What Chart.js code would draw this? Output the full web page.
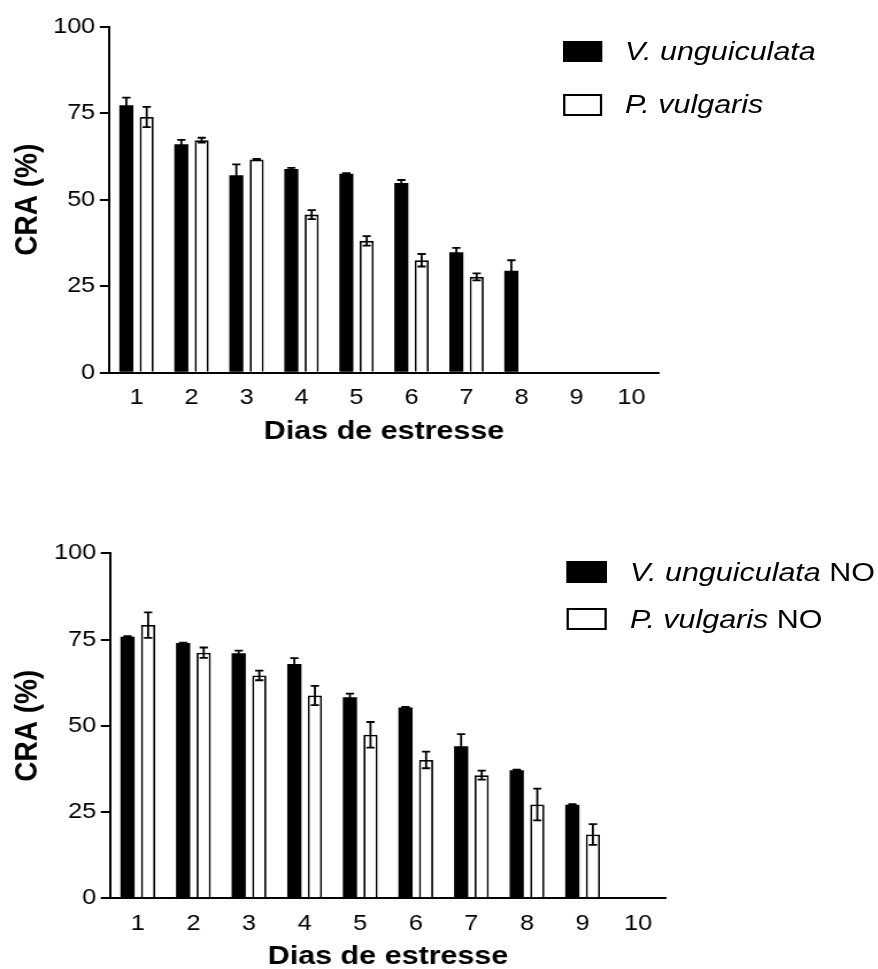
<!DOCTYPE html>
<html>
<head>
<meta charset="utf-8">
<script src="https://cdn.jsdelivr.net/npm/chart.js@4.4.0/dist/chart.umd.min.js"></script>
<style>
    html, body { margin: 0; padding: 0; background: #fff; overflow: hidden; }
    #wrap { position: absolute; left: 0; top: 0; width: 764px; height: 969px; transform: scaleX(1.1492); transform-origin: 0 0; }
    canvas { position: absolute; left: 0; }
    .legend { position: absolute; left: 0; top: 0; font-family: "Liberation Sans", Arial, sans-serif; font-size: 26.5px; color: #000; }
    .row { position: absolute; display: flex; align-items: center; white-space: nowrap; }
    .box { box-sizing: border-box; border: 2px solid #000; }
</style>
</head>
<body>
<div id="wrap">
    <canvas id="chartTop" width="764" height="526" style="top:0px"></canvas>
    <canvas id="chartBottom" width="764" height="526" style="top:526px"></canvas>
    <div id="legendTop" class="legend"></div>
    <div id="legendBottom" class="legend"></div>
</div>
<script>
// Data (CRA %, mean and error)
const days = ['1', '2', '3', '4', '5', '6', '7', '8', '9', '10'];
const yTicks = [0, 25, 50, 75, 100];
const species = ['V. unguiculata', 'P. vulgaris'];

// Top panel
const vungMean = [77.3, 66.0, 57.1, 58.9, 57.5, 54.8, 34.8, 29.5, null, null];
const vungErr  = [2.2, 1.3, 3.1, 0.3, 0.2, 0.9, 1.3, 3.0, null, null];
const pvulMean = [73.9, 67.2, 61.6, 45.7, 38.1, 32.5, 27.7, null, null, null];
const pvulErr  = [2.9, 0.7, 0.2, 1.3, 1.4, 1.8, 1.0, null, null, null];

// Bottom panel (NO)
const vungNoMean = [75.8, 74.0, 71.0, 67.9, 58.3, 55.3, 44.1, 37.1, 27.1, null];
const vungNoErr  = [0.2, 0.1, 0.8, 1.7, 1.0, 0.2, 3.5, 0.2, 0.2, null];
const pvulNoMean = [79.2, 71.2, 64.6, 58.8, 47.4, 40.1, 35.7, 27.2, 18.5, null];
const pvulNoErr  = [3.7, 1.5, 1.4, 2.8, 3.7, 2.4, 1.3, 4.6, 3.0, null];

// Page is drawn narrow and stretched horizontally (the figure's text is wide)
const SX = 1.1492;
const W = 764, H = 526;
const px = x => x / SX;
const FONT = '"Liberation Sans", Arial, sans-serif';

// Draw mean +/- error whiskers on each bar
const errorBars = {
    id: 'errorBars',
    afterDatasetsDraw(chart) {
        const ctx = chart.ctx;
        const yScale = chart.scales.y;
        ctx.save();
        ctx.strokeStyle = '#000';
        ctx.lineWidth = 1.8;
        chart.data.datasets.forEach((ds, i) => {
            chart.getDatasetMeta(i).data.forEach((bar, j) => {
                const v = ds.data[j];
                const e = ds.errors[j];
                if (v == null || !e) return;
                const x = bar.x;
                const yTop = yScale.getPixelForValue(v + e);
                const yBot = yScale.getPixelForValue(v - e);
                const cap = 3.6;
                ctx.beginPath();
                ctx.moveTo(x, yTop); ctx.lineTo(x, yBot);
                ctx.moveTo(x - cap, yTop); ctx.lineTo(x + cap, yTop);
                ctx.moveTo(x - cap, yBot); ctx.lineTo(x + cap, yBot);
                ctx.stroke();
            });
        });
        ctx.restore();
    }
};

function makeDatasets(blackMean, blackErr, whiteMean, whiteErr, labels) {
    return [
        { label: labels[0], data: blackMean, errors: blackErr, backgroundColor: '#000', borderWidth: 0 },
        { label: labels[1], data: whiteMean, errors: whiteErr, backgroundColor: '#fff', borderColor: '#000', borderWidth: 1.8 }
    ].map(ds => Object.assign(ds, { categoryPercentage: 0.74, barPercentage: 0.69 }));
}

// lay: chart area and title positions in figure pixels, relative to the canvas
function makeChart(id, lay, datasets) {
    return new Chart(document.getElementById(id), {
        type: 'bar',
        data: { labels: days, datasets: datasets },
        options: {
            responsive: false,
            animation: false,
            layout: { padding: { top: lay.top, right: W - px(lay.right), left: 0, bottom: 0 } },
            plugins: { legend: { display: false }, tooltip: { enabled: false } },
            scales: {
                x: {
                    grid: { display: false },
                    border: { display: true, color: '#000', width: 2 },
                    ticks: { color: '#000', font: { family: FONT, size: 22 }, padding: 4, maxRotation: 0 },
                    title: {
                        display: true, text: 'Dias de estresse', color: '#000',
                        font: { family: FONT, size: 26.5, weight: 'bold' },
                        padding: { top: 0, bottom: H - lay.xTitleY - 15.9 }
                    },
                    afterFit: s => { s.height = H - lay.bottom; }
                },
                y: {
                    min: 0,
                    max: 100,
                    afterBuildTicks: s => { s.ticks = yTicks.map(v => ({ value: v })); },
                    grid: { drawOnChartArea: false, drawTicks: true, tickLength: 8, color: '#000', lineWidth: 2 },
                    border: { display: true, color: '#000', width: 2 },
                    ticks: { color: '#000', font: { family: FONT, size: 22 }, padding: 4 },
                    title: {
                        display: true, text: 'CRA (%)', color: '#000',
                        font: { family: FONT, size: 28, weight: 'bold' },
                        padding: { top: px(lay.yTitleX) - 16.8, bottom: 0 }
                    },
                    afterFit: s => { s.width = px(lay.left); }
                }
            }
        },
        plugins: [errorBars]
    });
}

// HTML legend built from the chart's datasets
function buildLegend(id, chart, lay, suffix) {
    const el = document.getElementById(id);
    chart.data.datasets.forEach((ds, i) => {
        const row = document.createElement('div');
        row.className = 'row';
        row.style.left = px(lay.x) + 'px';
        row.style.top = lay.rows[i] + 'px';
        row.style.height = lay.h + 'px';
        row.style.lineHeight = lay.h + 'px';
        const box = document.createElement('div');
        box.className = 'box';
        box.style.width = px(lay.w) + 'px';
        box.style.height = lay.h + 'px';
        box.style.background = ds.backgroundColor;
        box.style.marginRight = px(lay.gap) + 'px';
        const txt = document.createElement('span');
        const it = document.createElement('i');
        it.textContent = ds.label;
        txt.appendChild(it);
        if (suffix) txt.appendChild(document.createTextNode(suffix));
        row.appendChild(box);
        row.appendChild(txt);
        el.appendChild(row);
    });
}

const topChart = makeChart('chartTop',
    { left: 109, right: 659, top: 26.7, bottom: 372.7, xTitleY: 431.2, yTitleX: 27.5 },
    makeDatasets(vungMean, vungErr, pvulMean, pvulErr, species));

const bottomChart = makeChart('chartBottom',
    { left: 110, right: 666, top: 27.3, bottom: 372.3, xTitleY: 431, yTitleX: 28.3 },
    makeDatasets(vungNoMean, vungNoErr, pvulNoMean, pvulNoErr, species));

buildLegend('legendTop', topChart, { x: 562.7, w: 40, h: 21.6, gap: 22.3, rows: [40.7, 94.3] }, '');
buildLegend('legendBottom', bottomChart, { x: 566, w: 41.3, h: 22, gap: 22.7, rows: [560.7, 608.3] }, ' NO');
</script>
</body>
</html>
